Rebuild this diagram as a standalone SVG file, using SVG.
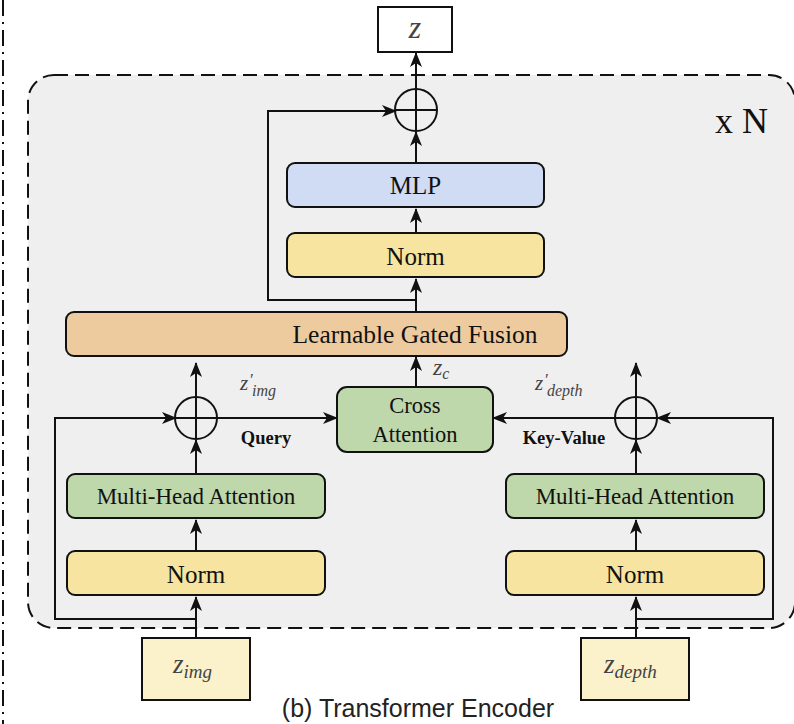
<svg xmlns="http://www.w3.org/2000/svg" width="794" height="724" viewBox="0 0 794 724">
  <style>
    .box { stroke: #111; stroke-width: 2; }
    .lbl { font-family: "Liberation Serif", "Times New Roman", serif; fill: #111; text-anchor: middle; }
    .math { font-family: "Liberation Serif", "Times New Roman", serif; font-style: italic; fill: #222; }
    .sym { font-family: "Liberation Serif", "Times New Roman", serif; font-style: italic; fill: #444; }
    .bold { font-family: "Liberation Serif", "Times New Roman", serif; font-weight: bold; fill: #111; text-anchor: middle; font-size: 18.5px; }
    .wire { fill: none; stroke: #111; stroke-width: 2; }
    .arrow { fill: none; stroke: #111; stroke-width: 2; marker-end: url(#head); }
    .sum { fill: none; stroke: #111; stroke-width: 2; }
  </style>
  <defs>
    <marker id="head" markerUnits="userSpaceOnUse" viewBox="0 0 15 12" markerWidth="15" markerHeight="12" refX="14" refY="6" orient="auto">
      <path d="M0,0 L15,6 L0,12 L4,6 Z" fill="#111"/>
    </marker>
  </defs>

  <rect width="794" height="724" fill="#ffffff"/>

  <!-- panel separator -->
  <line x1="3" y1="0" x2="3" y2="724" stroke="#111" stroke-width="2" stroke-dasharray="16 6 2 6"/>

  <!-- repeated encoder block -->
  <rect id="block" x="28" y="75" width="767" height="553" rx="26" fill="#efefef" stroke="#111" stroke-width="2" stroke-dasharray="14 7"/>
  <text x="715" y="133" font-family="Liberation Serif, serif" font-size="36" fill="#111">x N</text>

  <!-- connectors -->
  <g id="connectors">
    <!-- image branch -->
    <path class="arrow" d="M196,638 V597"/>
    <path class="arrow" d="M196,619 H55 V418 H176"/>
    <path class="arrow" d="M196,551 V520"/>
    <path class="arrow" d="M196,474 V440"/>
    <path class="arrow" d="M196,397 V363"/>
    <path class="arrow" d="M217,418 H337"/>
    <!-- depth branch -->
    <path class="arrow" d="M636,638 V597"/>
    <path class="arrow" d="M636,619 H773 V418 H657"/>
    <path class="arrow" d="M636,551 V520"/>
    <path class="arrow" d="M636,474 V440"/>
    <path class="arrow" d="M636,397 V363"/>
    <path class="arrow" d="M615,418 H493"/>
    <!-- fused trunk -->
    <path class="arrow" d="M416,387 V357"/>
    <path class="arrow" d="M416,312 V279"/>
    <path class="arrow" d="M416,300 H268 V111 H396"/>
    <path class="arrow" d="M416,233 V209"/>
    <path class="arrow" d="M416,163 V132"/>
    <path class="arrow" d="M416,89 V53"/>
  </g>

  <!-- output -->
  <g id="out">
    <rect class="box" x="378" y="7" width="74" height="45" fill="#ffffff"/>
    <text class="sym" x="415" y="38" font-size="32" text-anchor="middle">z</text>
  </g>

  <g id="add-top">
    <circle class="sum" cx="416" cy="110" r="21"/>
    <path class="wire" d="M395,110 H437 M416,89 V131"/>
  </g>

  <g id="mlp">
    <rect class="box" x="287" y="163" width="257" height="44" rx="8" fill="#cfdcf3"/>
    <text class="lbl" x="415.5" y="194" font-size="25">MLP</text>
  </g>

  <g id="norm-top">
    <rect class="box" x="287" y="233" width="257" height="44" rx="8" fill="#f6e4a0"/>
    <text class="lbl" x="415.5" y="265" font-size="25">Norm</text>
  </g>

  <g id="fusion">
    <rect class="box" x="66" y="312" width="501" height="44" rx="8" fill="#edcb9f"/>
    <text class="lbl" x="415" y="343" font-size="25.5">Learnable Gated Fusion</text>
  </g>

  <g id="cross">
    <rect class="box" x="337" y="387" width="156" height="65" rx="10" fill="#bed7ab"/>
    <text class="lbl" x="415" y="413" font-size="22.5">Cross</text>
    <text class="lbl" x="415" y="442" font-size="22.5">Attention</text>
  </g>

  <!-- image branch -->
  <g id="add-img">
    <circle class="sum" cx="196" cy="418" r="21"/>
    <path class="wire" d="M175,418 H217 M196,397 V439"/>
  </g>
  <g id="mha-img">
    <rect class="box" x="67" y="474" width="258" height="44" rx="8" fill="#bed7ab"/>
    <text class="lbl" x="196" y="504" font-size="23">Multi-Head Attention</text>
  </g>
  <g id="norm-img">
    <rect class="box" x="67" y="551" width="258" height="44" rx="8" fill="#f6e4a0"/>
    <text class="lbl" x="196" y="583" font-size="25">Norm</text>
  </g>
  <g id="in-img">
    <rect class="box" x="142" y="638" width="108" height="62" fill="#fbf1cb"/>
    <text class="sym" x="173" y="673" font-size="27">z<tspan font-size="19" dy="5">img</tspan></text>
  </g>

  <!-- depth branch -->
  <g id="add-depth">
    <circle class="sum" cx="636" cy="418" r="21"/>
    <path class="wire" d="M615,418 H657 M636,397 V439"/>
  </g>
  <g id="mha-depth">
    <rect class="box" x="506" y="474" width="258" height="44" rx="8" fill="#bed7ab"/>
    <text class="lbl" x="635" y="504" font-size="23">Multi-Head Attention</text>
  </g>
  <g id="norm-depth">
    <rect class="box" x="506" y="551" width="258" height="44" rx="8" fill="#f6e4a0"/>
    <text class="lbl" x="635" y="583" font-size="25">Norm</text>
  </g>
  <g id="in-depth">
    <rect class="box" x="581" y="638" width="108" height="62" fill="#fbf1cb"/>
    <text class="sym" x="604" y="673" font-size="27">z<tspan font-size="19" dy="5">depth</tspan></text>
  </g>

  <!-- edge labels -->
  <text class="sym" x="433" y="375" font-size="24">z<tspan font-size="16" dy="4">c</tspan></text>
  <g id="lbl-zimg">
    <text class="sym" x="240" y="390" font-size="21">z</text>
    <text class="sym" x="249" y="385" font-size="17">′</text>
    <text class="sym" x="252" y="396" font-size="16">img</text>
  </g>
  <g id="lbl-zdepth">
    <text class="sym" x="535" y="390" font-size="21">z</text>
    <text class="sym" x="544" y="385" font-size="17">′</text>
    <text class="sym" x="547" y="396" font-size="16">depth</text>
  </g>
  <text class="bold" x="266" y="444">Query</text>
  <text class="bold" x="564" y="444">Key-Value</text>

  <!-- caption -->
  <text x="418" y="717" font-family="Liberation Sans, Arial, sans-serif" font-size="25" fill="#222" text-anchor="middle">(b) Transformer Encoder</text>
</svg>
